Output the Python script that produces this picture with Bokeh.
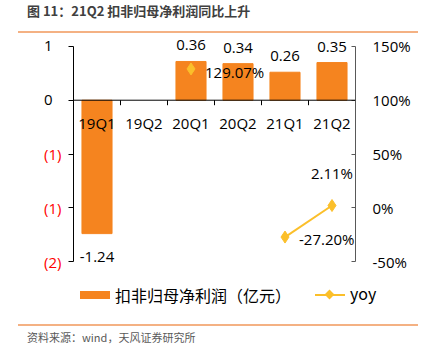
import math
from bokeh.plotting import figure
from bokeh.models import (ColumnDataSource, Range1d, LinearAxis, FixedTicker, LabelSet,
                          Div, Span)
from bokeh.layouts import column
from bokeh.embed import file_html
from bokeh.resources import INLINE
from bokeh.core.properties import value

title_text = "图 11：21Q2 扣非归母净利润同比上升"
source_text = "资料来源：wind，天风证券研究所"
categories = ["19Q1", "19Q2", "20Q1", "20Q2", "21Q1", "21Q2"]
profit = [-1.24, None, 0.36, 0.34, 0.26, 0.35]
yoy = [None, None, 129.07, None, -27.20, 2.11]
left_ticks = [0.5, 0.0, -0.5, -1.0, -1.5]
left_tick_labels = ["1", "0", "(1)", "(1)", "(2)"]
right_ticks = [150, 100, 50, 0, -50]
right_tick_labels = ["150%", "100%", "50%", "0%", "-50%"]
bar_name = "扣非归母净利润（亿元）"
line_name = "yoy"

NUM_FONT = "Open Sans"
CJK_FONT = "Noto Sans CJK SC"
BAR_COLOR = "#F5841F"
LINE_COLOR = "#FBBF2A"

nan = float("nan")
n = len(categories)
xs = [i + 0.5 for i in range(n)]
profit_v = [nan if v is None else v for v in profit]
yoy_v = [nan if v is None else v for v in yoy]

src = ColumnDataSource(dict(x=xs, cat=categories, profit=profit_v, yoy=yoy_v,
                            zero=[0] * n))

left_lo, left_hi = -1.62, 0.62
p = figure(frame_width=282, frame_height=241,
           x_range=Range1d(0, n),
           y_range=Range1d(left_lo, left_hi),
           x_axis_type=None, y_axis_type=None,
           output_backend="svg", toolbar_location=None,
           min_border_left=73, min_border_right=72,
           min_border_top=0, min_border_bottom=0)
p.extra_y_ranges = {"pct": Range1d(100 + 100 * left_lo, 100 + 100 * left_hi)}
p.outline_line_color = None
p.background_fill_color = "white"
p.border_fill_color = "white"

bars = p.vbar(x="x", top="profit", bottom=0, width=0.64, source=src,
              fill_color=BAR_COLOR, line_color=BAR_COLOR)
line = p.line(x="x", y="yoy", source=src, y_range_name="pct",
              line_color=LINE_COLOR, line_width=2)
pts = p.scatter(x="x", y="yoy", source=src, y_range_name="pct", marker="diamond",
                size=12, fill_color=LINE_COLOR, line_color=LINE_COLOR)

# inner left axis: line, ticks and the non-negative labels (black)
black_over = {t: (l if t >= 0 else "") for t, l in zip(left_ticks, left_tick_labels)}
laxis = LinearAxis(ticker=FixedTicker(ticks=left_ticks, minor_ticks=[]),
                   major_label_overrides=black_over,
                   bounds=(min(left_ticks), max(left_ticks)),
                   major_tick_out=5, major_tick_in=0, major_label_standoff=16,
                   axis_line_color="black", major_tick_line_color="black",
                   major_label_text_font=NUM_FONT, major_label_text_font_size="15px",
                   major_label_text_color="black")
p.add_layout(laxis, "left")

# outer left axis: only the negative labels (red)
red_over = {t: (l if t < 0 else "") for t, l in zip(left_ticks, left_tick_labels)}
laxis2 = LinearAxis(ticker=FixedTicker(ticks=left_ticks, minor_ticks=[]),
                    major_label_overrides=red_over,
                    major_tick_out=0, major_tick_in=0, major_label_standoff=-21,
                    axis_line_color=None, major_tick_line_color=None,
                    major_label_text_font=NUM_FONT, major_label_text_font_size="15px",
                    major_label_text_color="#FF0000")
p.add_layout(laxis2, "left")

raxis = LinearAxis(y_range_name="pct",
                   ticker=FixedTicker(ticks=right_ticks, minor_ticks=[]),
                   major_label_overrides={t: l for t, l in zip(right_ticks, right_tick_labels)},
                   bounds=(min(right_ticks), max(right_ticks)),
                   major_tick_out=0, major_tick_in=4, major_label_standoff=17,
                   axis_line_color="#595959", major_tick_line_color="#595959",
                   major_label_text_font=NUM_FONT, major_label_text_font_size="15px",
                   major_label_text_color="black")
p.add_layout(raxis, "right")

# category axis at zero: base line, boundary ticks, labels under the line
p.add_layout(Span(location=0, dimension="width", line_color="black", line_width=1))
bounds_x = list(range(1, n))
p.ray(x=bounds_x, y=[0] * len(bounds_x), length=5, length_units="screen",
      angle=-math.pi / 2, line_color="black", line_width=1)
p.add_layout(LabelSet(x="x", y="zero", text="cat", source=src, y_offset=-13,
                      text_align="center", text_baseline="top",
                      text_color="black", text_font=value(NUM_FONT), text_font_size="15px"))

pos_src = ColumnDataSource(dict(x=[x for x, v in zip(xs, profit) if v is not None and v >= 0],
                                y=[v for v in profit if v is not None and v >= 0],
                                t=["%.2f" % v for v in profit if v is not None and v >= 0]))
negb_src = ColumnDataSource(dict(x=[x for x, v in zip(xs, profit) if v is not None and v < 0],
                                 y=[v for v in profit if v is not None and v < 0],
                                 t=["%.2f" % v for v in profit if v is not None and v < 0]))
p.add_layout(LabelSet(x="x", y="y", text="t", source=pos_src, y_offset=11,
                      text_align="center", text_baseline="bottom",
                      text_color="black", text_font=value(NUM_FONT), text_font_size="15px"))
p.add_layout(LabelSet(x="x", y="y", text="t", source=negb_src, y_offset=-18,
                      text_align="center", text_baseline="top",
                      text_color="black", text_font=value(NUM_FONT), text_font_size="15px"))

yx = [x for x, v in zip(xs, yoy) if v is not None]
yy = [v for v in yoy if v is not None]
ylab = ["%.2f%%" % v for v in yy]
y_xoff = [14, 14, 21]
y_yoff = [-3, -2, 33]
y_align = ["left", "left", "right"]
yoy_src = ColumnDataSource(dict(x=yx, y=yy, t=ylab, xo=y_xoff, yo=y_yoff, al=y_align))
p.add_layout(LabelSet(x="x", y="y", text="t", source=yoy_src, y_range_name="pct",
                      x_offset="xo", y_offset="yo", text_align="al", text_baseline="middle",
                      text_color="black", text_font=value(NUM_FONT), text_font_size="15px"))

# legend strip (HTML), styled like the series
legend_div = Div(text=(
    '<div style="position:relative;width:427px;height:46px;font-family:\'Noto Sans CJK SC\';'
    'font-size:16px;color:#000;">'
    '<div style="position:absolute;left:80px;top:17px;width:30px;height:8px;background:' + BAR_COLOR + ';"></div>'
    '<div style="position:absolute;left:115px;top:9px;line-height:24px;white-space:nowrap;">' + bar_name + '</div>'
    '<div style="position:absolute;left:315px;top:20px;width:30px;height:2px;background:' + LINE_COLOR + ';"></div>'
    '<div style="position:absolute;left:326px;top:17px;width:7px;height:7px;background:' + LINE_COLOR + ';transform:rotate(45deg);"></div>'
    '<div style="position:absolute;left:350px;top:7px;line-height:24px;white-space:nowrap;">' + line_name + '</div>'
    '</div>'), width=427, height=46, margin=(0, 0, 0, 0))

title_div = Div(text=(
    '<div style="position:relative;width:427px;height:33px;">'
    '<div style="position:absolute;left:27px;top:2px;font-family:\'Noto Sans CJK SC\';'
    'font-size:13px;font-weight:bold;color:#404040;white-space:nowrap;">' + title_text + '</div>'
    '<div style="position:absolute;left:18px;top:31px;width:400px;height:2px;background:#F4B183;"></div>'
    '</div>'), width=427, height=33, margin=(0, 0, 0, 0))

source_div = Div(text=(
    '<div style="position:relative;width:427px;height:33px;">'
    '<div style="position:absolute;left:18px;top:4px;width:400px;height:2px;background:#F4B183;"></div>'
    '<div style="position:absolute;left:27px;top:10px;font-family:\'Noto Sans CJK SC\';'
    'font-size:11px;color:#595959;white-space:nowrap;">' + source_text + '</div>'
    '</div>'), width=427, height=33, margin=(0, 0, 0, 0))

layout = column(title_div, p, legend_div, source_div, spacing=0, margin=(0, 0, 0, 0))
open("out.html", "w").write(file_html(layout, INLINE))
